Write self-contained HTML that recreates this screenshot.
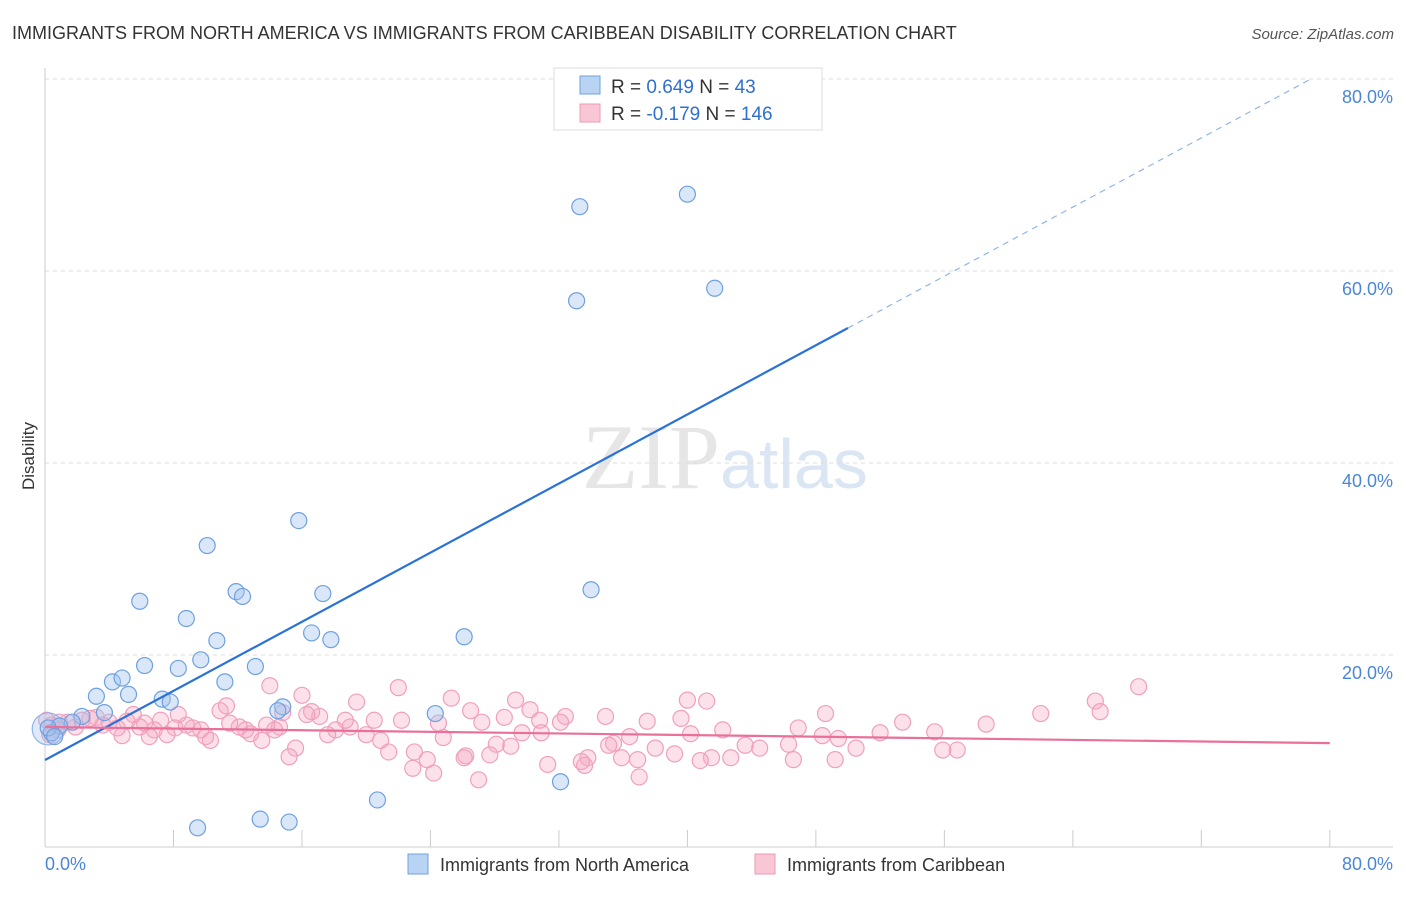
<!DOCTYPE html>
<html><head><meta charset="utf-8"><style>
body{margin:0;background:#fff;font-family:"Liberation Sans",sans-serif;}
</style></head><body>
<svg width="1406" height="892" viewBox="0 0 1406 892" xmlns="http://www.w3.org/2000/svg" font-family="Liberation Sans, sans-serif">
<text x="12" y="39" font-size="18" fill="#333">IMMIGRANTS FROM NORTH AMERICA VS IMMIGRANTS FROM CARIBBEAN DISABILITY CORRELATION CHART</text>
<text x="1394" y="39" font-size="15" fill="#555" font-style="italic" text-anchor="end">Source: ZipAtlas.com</text>
<text x="720" y="488" font-size="92" fill="#e6e6e6" font-family="Liberation Serif, serif" text-anchor="end">ZIP</text>
<text x="720" y="488" font-size="70" fill="#dbe6f4" text-anchor="start">atlas</text>
<g id="grid"></g>
<g id="axes"></g>
<g id="pink"></g>
<g id="blue"></g>
<g id="lines"></g>
<text x="34" y="456" font-size="17" fill="#333" transform="rotate(-90 34 456)" text-anchor="middle">Disability</text>
<g>
<rect x="554" y="68" width="268" height="62" fill="#fff" stroke="#ddd"/>
<rect x="580" y="76" width="20" height="18" fill="#b9d3f3" stroke="#6fa0e0"/>
<rect x="580" y="104" width="20" height="18" fill="#f9c6d6" stroke="#ee9ab5"/>
<text x="611" y="93" font-size="19" fill="#333">R = <tspan fill="#2f6fd0">0.649</tspan>   N =  <tspan fill="#2f6fd0"> 43</tspan></text>
<text x="611" y="120" font-size="19" fill="#333">R = <tspan fill="#2f6fd0">-0.179</tspan>   N = <tspan fill="#2f6fd0">146</tspan></text>
</g>
<g>
<rect x="408" y="854" width="20" height="20" fill="#b9d3f3" stroke="#6fa0e0"/>
<text x="440" y="871" font-size="18" fill="#333">Immigrants from North America</text>
<rect x="755" y="854" width="20" height="20" fill="#f9c6d6" stroke="#ee9ab5"/>
<text x="787" y="871" font-size="18" fill="#333">Immigrants from Caribbean</text>
</g>
<script>
const yTicks=[20,40,60,80];
const xTickLabels=["0.0%","80.0%"];
const blueX=[33.3,40.0,33.1,41.7,15.8,10.1,5.9,11.9,12.3,17.3,34.0,8.8,16.6,17.8,26.1,10.7,6.2,8.3,9.7,13.1,4.2,4.8,3.2,5.2,11.2,7.3,7.8,14.8,14.5,24.3,3.7,2.3,1.7,0.9,0.4,0.2,0.6,20.7,32.1,9.5,13.4,15.2];
const blueY=[66.7,68.0,56.9,58.2,34.0,31.4,25.6,26.6,26.1,26.4,26.8,23.8,22.3,21.6,21.9,21.5,18.9,18.6,19.5,18.8,17.2,17.6,15.7,15.9,17.2,15.4,15.1,14.6,14.2,13.9,14.0,13.6,13.0,12.6,11.9,12.4,11.5,4.9,6.8,2.0,2.9,2.6];
const pinkX=[68.1,65.4,65.7,62.0,58.6,55.4,56.8,55.9,53.4,52.0,50.5,49.2,48.6,49.4,48.4,46.9,46.6,46.3,44.5,43.6,42.7,42.2,41.2,40.0,41.5,40.8,39.6,39.2,40.2,38.0,37.5,36.9,37.0,36.4,35.9,34.9,35.4,35.1,33.8,33.6,33.4,32.4,32.1,31.3,30.8,30.9,30.2,29.3,29.7,29.0,28.6,28.1,27.7,27.2,27.0,26.5,26.2,26.1,25.3,24.8,24.2,24.5,23.8,23.0,22.9,22.2,22.0,21.4,20.9,20.5,20.0,19.4,19.0,18.7,18.1,17.6,17.1,16.6,16.3,16.0,15.6,15.2,14.8,14.6,14.3,14.0,13.8,13.5,12.8,12.5,12.1,11.5,11.3,10.9,10.3,10.0,9.7,9.2,8.8,8.3,8.1,7.6,7.2,6.8,6.5,6.2,5.9,5.5,5.1,4.8,4.5,4.0,3.6,3.2,2.8,2.3,1.9,1.4,0.9,0.4,0.1,0.3,0.8];
const pinkY=[16.7,15.2,14.1,13.9,12.8,12.0,10.1,10.1,13.0,11.9,10.3,9.1,13.9,11.3,11.6,12.4,9.1,10.7,10.3,10.6,9.3,12.2,15.2,15.3,9.3,9.0,13.4,9.7,11.8,10.3,13.1,9.1,7.3,11.5,9.3,13.6,10.8,10.6,9.3,8.5,8.9,13.6,13.0,8.6,13.2,11.9,14.3,15.3,11.9,10.5,13.5,10.7,9.6,13.0,7.0,14.2,9.5,9.3,15.5,11.4,7.7,12.9,9.1,9.9,8.2,13.2,16.6,9.9,11.1,13.2,11.7,15.1,12.5,13.2,12.2,11.7,13.6,14.1,13.8,15.8,10.3,9.4,14.0,12.5,12.2,16.8,12.7,11.1,11.8,12.2,12.5,12.9,14.7,14.2,11.1,11.5,12.2,12.4,12.7,13.8,12.4,11.7,13.2,12.2,11.5,12.9,12.5,13.8,13.1,11.6,12.4,13.0,12.7,13.5,13.4,13.2,12.5,13.0,13.0,12.7,13.2,11.7,12.2];
const blueTrend=[9.06,0.9];   // intercept, slope
const pinkTrend=[12.5,-0.021];
const NS="http://www.w3.org/2000/svg";
const sx=v=>45+v*16.06, sy=v=>847-v*9.6;
function mk(t,a,p){const e=document.createElementNS(NS,t);for(const k in a)e.setAttribute(k,a[k]);p.appendChild(e);return e;}
const grid=document.getElementById('grid'),axes=document.getElementById('axes');
yTicks.forEach(t=>{
 const l=mk('line',{x1:45,x2:1393,y1:sy(t),y2:sy(t),stroke:'#ddd','stroke-dasharray':'4,4'},grid);
 
 
 const tx=mk('text',{x:1393,y:sy(t)+24,'font-size':18,fill:'#4a86d8','text-anchor':'end'},grid);
 tx.textContent=t.toFixed(1)+'%';
 
 
});
mk('line',{x1:45,x2:45,y1:68,y2:847,stroke:'#ccc'},axes);
mk('line',{x1:45,x2:1393,y1:847,y2:847,stroke:'#ccc'},axes);
for(let i=0;i<=10;i++){mk('line',{x1:sx(i*8),x2:sx(i*8),y1:830,y2:847,stroke:'#ccc'},axes);}
const t0=mk('text',{x:45,y:870,'font-size':18,fill:'#4a86d8'},axes);t0.textContent=xTickLabels[0];


const t1=mk('text',{x:1393,y:870,'font-size':18,fill:'#4a86d8','text-anchor':'end'},axes);t1.textContent=xTickLabels[1];


const pg=document.getElementById('pink');
pinkX.forEach((x,i)=>{const c=mk('circle',{cx:sx(x),cy:sy(pinkY[i]),r:8,fill:'rgba(246,170,196,0.35)',stroke:'#f0a0bc','stroke-width':1.2},pg);
 
 });
const bg=document.getElementById('blue');
const big=mk('circle',{cx:sx(0.2),cy:sy(12.3),r:16,fill:'rgba(160,196,240,0.35)',stroke:'#8fb5e8','stroke-width':1.2},bg);


blueX.forEach((x,i)=>{const c=mk('circle',{cx:sx(x),cy:sy(blueY[i]),r:8,fill:'rgba(160,196,240,0.4)',stroke:'#6fa0e0','stroke-width':1.2},bg);
 
 });
const lg=document.getElementById('lines');
const bf=x=>blueTrend[0]+blueTrend[1]*x, pf=x=>pinkTrend[0]+pinkTrend[1]*x;
const xEnd=(80-blueTrend[0])/blueTrend[1];
const b1=mk('line',{x1:sx(0),y1:sy(bf(0)),x2:sx(50),y2:sy(bf(50)),stroke:'#2b72d6','stroke-width':2.2},lg);


const b2=mk('line',{x1:sx(50),y1:sy(bf(50)),x2:sx(xEnd),y2:sy(bf(xEnd)),stroke:'#8fb5e8','stroke-width':1.2,'stroke-dasharray':'6,5'},lg);


const p1=mk('line',{x1:sx(0),y1:sy(pf(0)),x2:sx(80),y2:sy(pf(80)),stroke:'#e8709a','stroke-width':2.2},lg);


</script>
</svg>
</body></html>
